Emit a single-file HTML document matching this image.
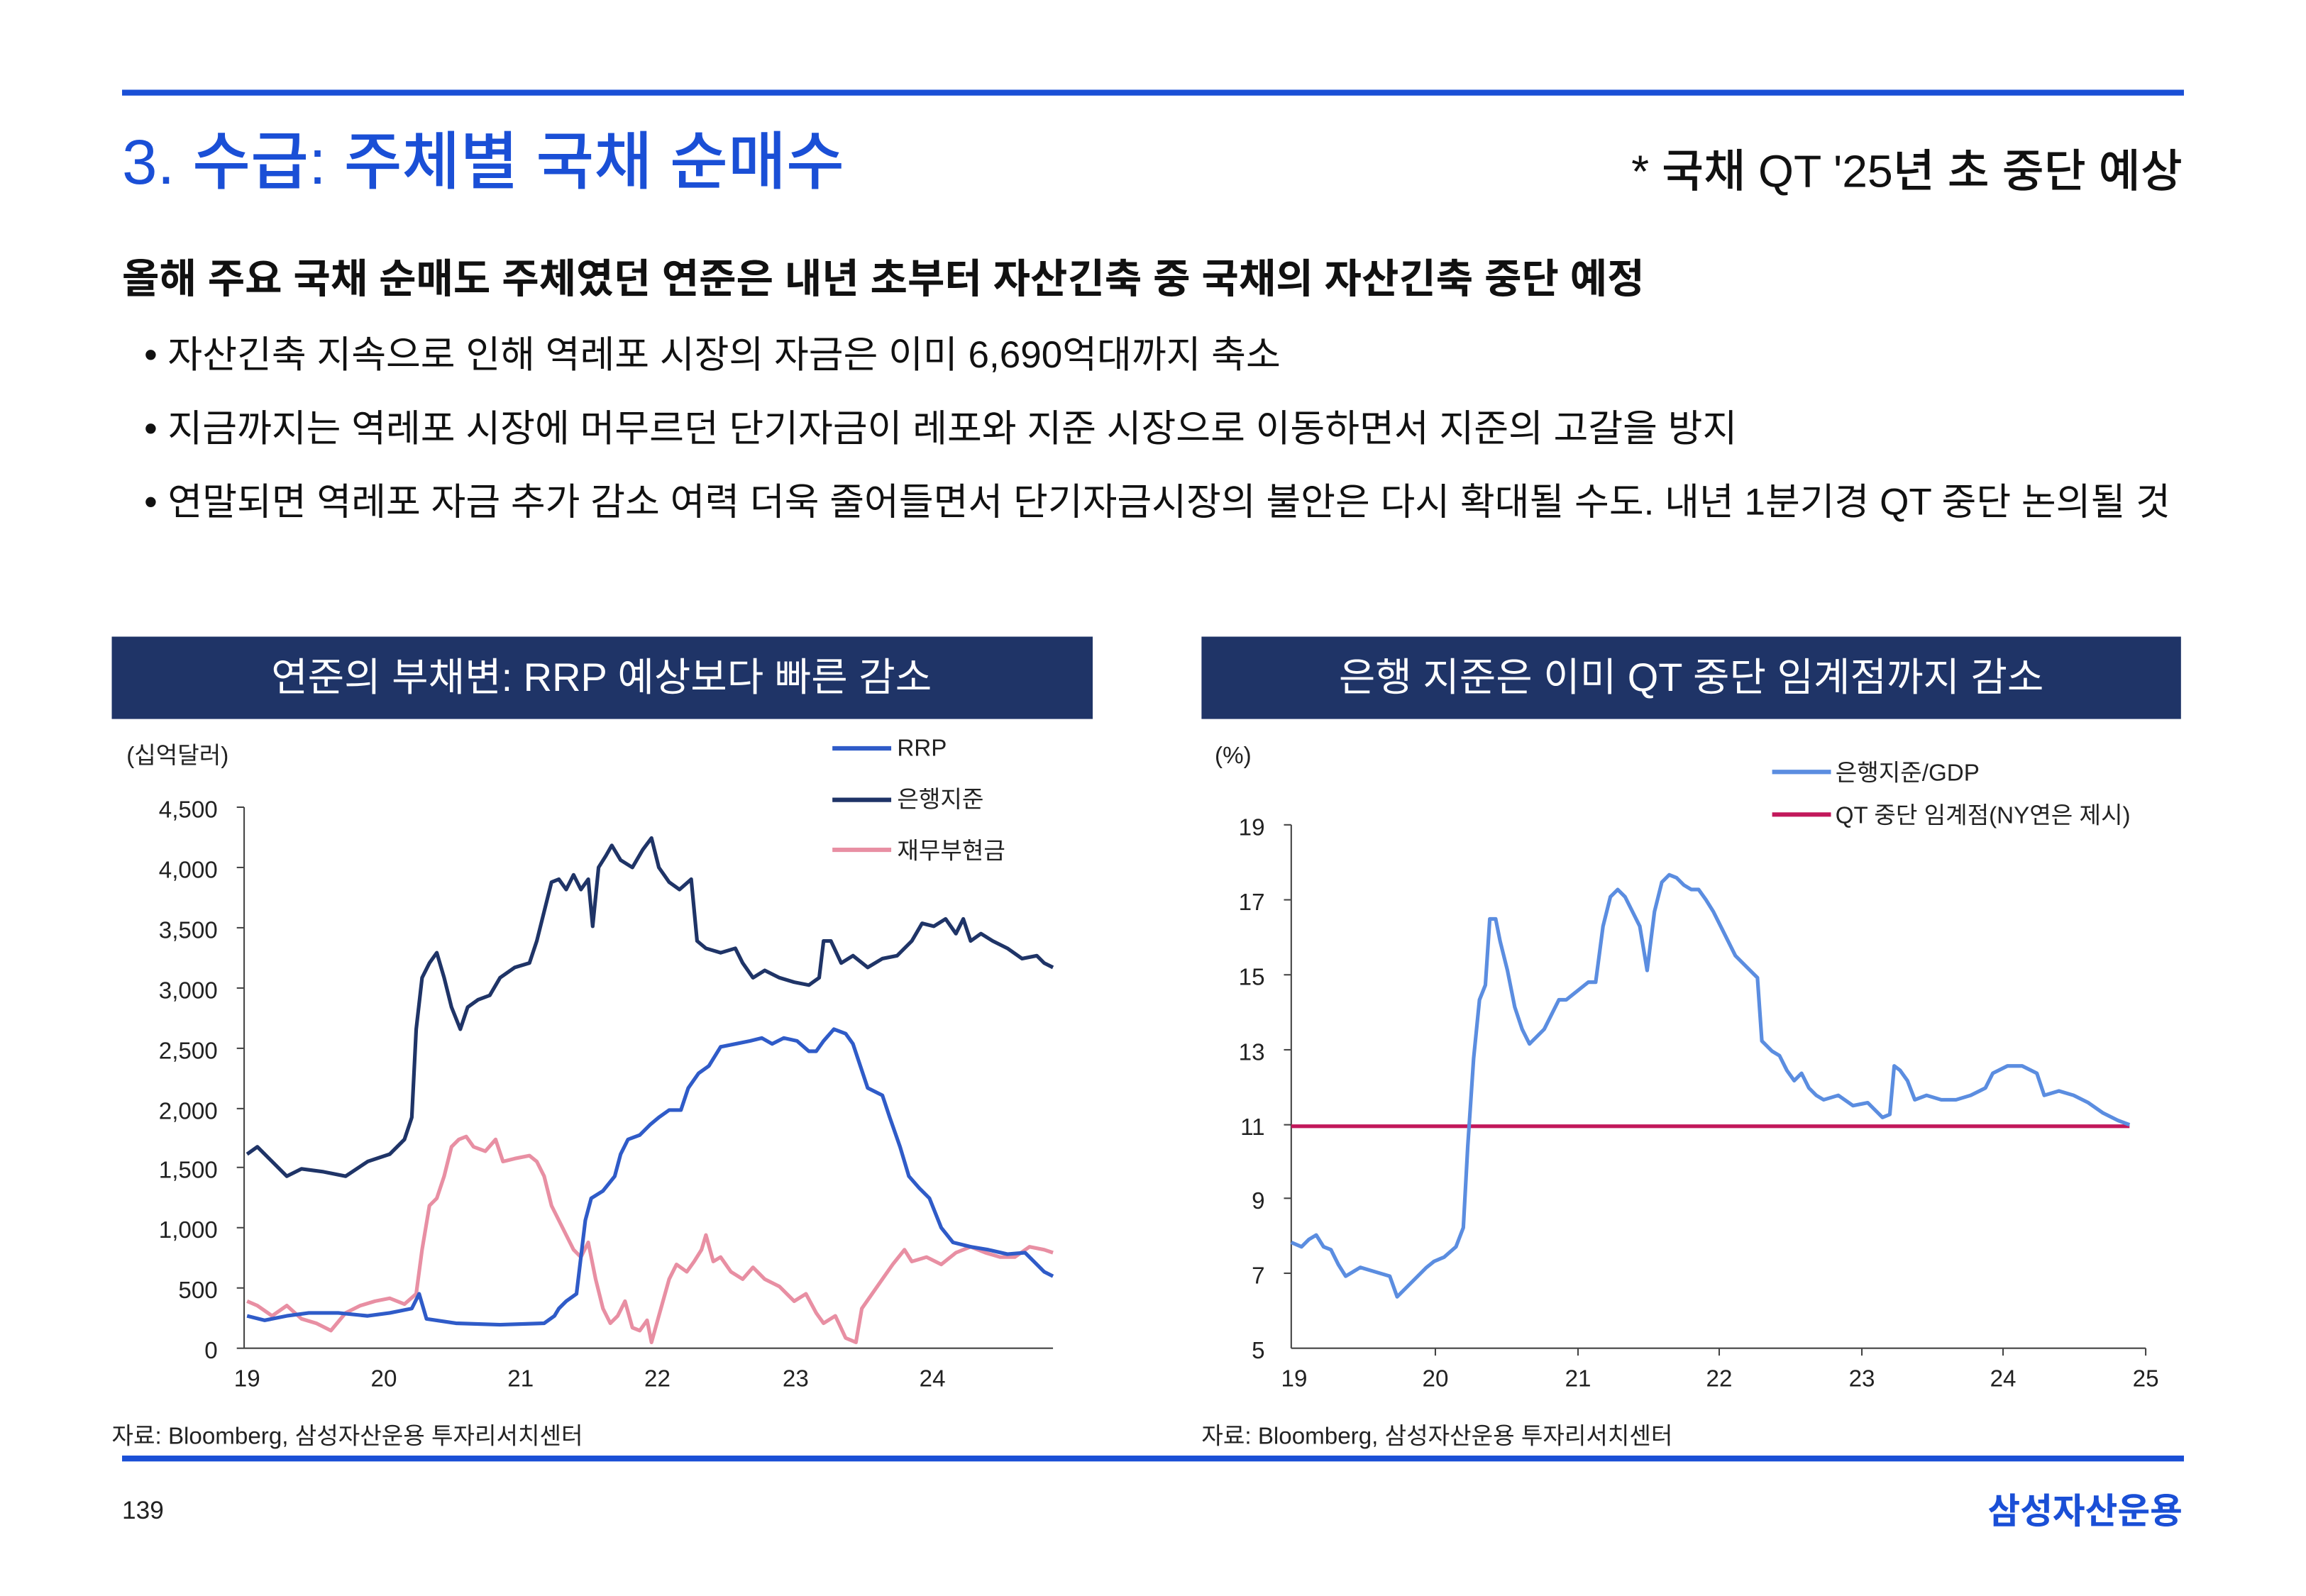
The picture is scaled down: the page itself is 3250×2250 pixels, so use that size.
<!DOCTYPE html>
<html><head><meta charset="utf-8"><style>
html,body{margin:0;padding:0;background:#fff}
svg{display:block}
text{font-family:"Liberation Sans","Noto Sans CJK KR",sans-serif}
</style></head><body>
<svg width="3250" height="2250" viewBox="0 0 1568 1085.5" xmlns="http://www.w3.org/2000/svg">
<rect x="83" y="61" width="1402" height="4" fill="#1a4fd6"/>
<text x="83" y="125" font-size="43" fill="#1a4fd6" font-weight="500">3. 수급: 주체별 국채 순매수</text>
<text x="1484" y="127" font-size="31" fill="#111" text-anchor="end" font-weight="500">* 국채 QT '25년 초 중단 예상</text>
<text x="83" y="199" font-size="27.5" fill="#111" font-weight="bold">올해 주요 국채 순매도 주체였던 연준은 내년 초부터 자산긴축  중 국채의 자산긴축 중단 예정</text>
<text x="98" y="250" font-size="25.6" fill="#111">• 자산긴축 지속으로 인해 역레포 시장의 자금은 이미 6,690억대까지 축소</text>
<text x="98" y="300" font-size="25.6" fill="#111">• 지금까지는 역레포 시장에 머무르던 단기자금이 레포와 지준 시장으로 이동하면서 지준의 고갈을 방지</text>
<text x="98" y="350" font-size="25.6" fill="#111">• 연말되면 역레포 자금 추가 감소 여력 더욱 줄어들면서 단기자금시장의 불안은 다시 확대될 수도. 내년 1분기경 QT 중단 논의될 것</text>

<rect x="76" y="433" width="667" height="56" fill="#1f3467"/>
<text x="409" y="470" font-size="27" fill="#fff" text-anchor="middle">연준의 부채변: RRP 예상보다 빠른 감소</text>
<rect x="817" y="433" width="666" height="56" fill="#1f3467"/>
<text x="1150" y="470" font-size="27" fill="#fff" text-anchor="middle">은행 지준은 이미 QT 중단 임계점까지 감소</text>

<!-- left chart -->
<g font-size="16" fill="#222">
<text x="86" y="519">(십억달러)</text>
<text x="148" y="556" text-anchor="end">4,500</text>
<text x="148" y="597" text-anchor="end">4,000</text>
<text x="148" y="638" text-anchor="end">3,500</text>
<text x="148" y="679" text-anchor="end">3,000</text>
<text x="148" y="720" text-anchor="end">2,500</text>
<text x="148" y="761" text-anchor="end">2,000</text>
<text x="148" y="801" text-anchor="end">1,500</text>
<text x="148" y="842" text-anchor="end">1,000</text>
<text x="148" y="883" text-anchor="end">500</text>
<text x="148" y="924" text-anchor="end">0</text>
<text x="168" y="943" text-anchor="middle">19</text>
<text x="261" y="943" text-anchor="middle">20</text>
<text x="354" y="943" text-anchor="middle">21</text>
<text x="447" y="943" text-anchor="middle">22</text>
<text x="541" y="943" text-anchor="middle">23</text>
<text x="634" y="943" text-anchor="middle">24</text>
<text x="610" y="514">RRP</text>
<text x="610" y="549">은행지준</text>
<text x="610" y="584">재무부현금</text>
</g>
<g stroke="#444" stroke-width="1">
<line x1="166" y1="549" x2="166" y2="917"/><line x1="166" y1="917" x2="716" y2="917"/>
<line x1="161" y1="549" x2="166" y2="549"/><line x1="161" y1="590" x2="166" y2="590"/><line x1="161" y1="631" x2="166" y2="631"/><line x1="161" y1="672" x2="166" y2="672"/><line x1="161" y1="713" x2="166" y2="713"/><line x1="161" y1="754" x2="166" y2="754"/><line x1="161" y1="794" x2="166" y2="794"/><line x1="161" y1="835" x2="166" y2="835"/><line x1="161" y1="876" x2="166" y2="876"/><line x1="161" y1="917" x2="166" y2="917"/>
</g>
<line x1="566" y1="509" x2="606" y2="509" stroke="#2f5bc8" stroke-width="3"/>
<line x1="566" y1="544" x2="606" y2="544" stroke="#1f3467" stroke-width="3"/>
<line x1="566" y1="578" x2="606" y2="578" stroke="#e88fa3" stroke-width="3"/>
<g fill="none" stroke-width="2.5" stroke-linejoin="round">
<polyline stroke="#e88fa3" points="168,885 175,888 185,895 195,888 205,897 215,900 225,905 235,893 245,888 255,885 265,883 275,887 283,880 287,850 292,820 297,815 302,800 307,780 312,775 317,773 322,780 330,783 337,775 342,790 350,788 360,786 365,790 370,800 375,820 380,830 385,840 390,850 395,855 400,845 405,870 410,890 415,900 420,895 425,885 430,903 435,905 440,898 443,913 448,895 455,870 460,860 467,865 472,858 477,850 480,840 485,858 490,855 497,865 505,870 512,862 520,870 530,875 540,885 548,880 555,893 560,900 568,895 575,910 582,913 586,890 593,880 600,870 607,860 615,850 620,858 630,855 640,860 650,852 660,848 670,852 680,855 690,855 700,848 710,850 716,852"/>
<polyline stroke="#2f5bc8" points="168,895 180,898 195,895 210,893 230,893 250,895 265,893 280,890 285,880 290,897 310,900 340,901 370,900 377,895 380,890 385,885 392,880 398,830 402,815 410,810 418,800 422,785 427,775 435,772 442,765 448,760 455,755 463,755 468,740 475,730 482,725 490,712 500,710 510,708 518,706 525,710 533,706 542,708 550,715 555,715 560,708 567,700 575,703 580,710 585,725 590,740 600,745 605,760 612,780 618,800 625,808 632,815 640,835 648,845 660,848 672,850 685,853 697,852 705,860 710,865 716,868"/>
<polyline stroke="#1f3467" points="168,785 175,780 185,790 195,800 205,795 220,797 235,800 250,790 265,785 275,775 280,760 283,700 287,665 292,655 297,648 302,665 307,685 313,700 318,685 325,680 333,677 340,665 350,658 360,655 365,640 370,620 375,600 380,598 385,605 390,595 395,605 400,598 403,630 407,590 412,582 416,575 422,585 430,590 437,578 443,570 448,590 455,600 462,605 470,598 474,640 480,645 490,648 500,645 505,655 512,665 520,660 530,665 540,668 550,670 557,665 560,640 565,640 572,655 580,650 590,658 600,652 610,650 620,640 627,628 635,630 643,625 650,635 655,625 660,640 667,635 675,640 685,645 695,652 705,650 710,655 716,658"/>
</g>

<!-- right chart -->
<g font-size="16" fill="#222">
<text x="826" y="519">(%)</text>
<text x="860" y="568" text-anchor="end">19</text>
<text x="860" y="619" text-anchor="end">17</text>
<text x="860" y="670" text-anchor="end">15</text>
<text x="860" y="721" text-anchor="end">13</text>
<text x="860" y="772" text-anchor="end">11</text>
<text x="860" y="822" text-anchor="end">9</text>
<text x="860" y="873" text-anchor="end">7</text>
<text x="860" y="924" text-anchor="end">5</text>
<text x="880" y="943" text-anchor="middle">19</text>
<text x="976" y="943" text-anchor="middle">20</text>
<text x="1073" y="943" text-anchor="middle">21</text>
<text x="1169" y="943" text-anchor="middle">22</text>
<text x="1266" y="943" text-anchor="middle">23</text>
<text x="1362" y="943" text-anchor="middle">24</text>
<text x="1459" y="943" text-anchor="middle">25</text>
<text x="1248" y="531">은행지준/GDP</text>
<text x="1248" y="560">QT 중단 임계점(NY연은 제시)</text>
</g>
<g stroke="#444" stroke-width="1">
<line x1="878" y1="561" x2="878" y2="917"/><line x1="878" y1="917" x2="1459" y2="917"/>
<line x1="873" y1="561" x2="878" y2="561"/><line x1="873" y1="612" x2="878" y2="612"/><line x1="873" y1="663" x2="878" y2="663"/><line x1="873" y1="714" x2="878" y2="714"/><line x1="873" y1="765" x2="878" y2="765"/><line x1="873" y1="815" x2="878" y2="815"/><line x1="873" y1="866" x2="878" y2="866"/>
<line x1="976" y1="917" x2="976" y2="922"/><line x1="1073" y1="917" x2="1073" y2="922"/><line x1="1169" y1="917" x2="1169" y2="922"/><line x1="1266" y1="917" x2="1266" y2="922"/><line x1="1362" y1="917" x2="1362" y2="922"/><line x1="1459" y1="917" x2="1459" y2="922"/>
</g>
<line x1="1205" y1="525" x2="1245" y2="525" stroke="#5b8de0" stroke-width="3"/>
<line x1="1205" y1="554" x2="1245" y2="554" stroke="#c2185b" stroke-width="3"/>
<line x1="878" y1="766" x2="1448" y2="766" stroke="#c2185b" stroke-width="2.5"/>
<polyline fill="none" stroke="#5b8de0" stroke-width="2.5" stroke-linejoin="round" points="878,845 885,848 890,843 895,840 900,848 905,850 910,860 915,868 925,862 935,865 945,868 950,882 960,872 970,862 975,858 982,855 990,848 995,835 998,780 1002,720 1006,680 1010,670 1013,625 1017,625 1020,640 1025,660 1030,685 1035,700 1040,710 1045,705 1050,700 1055,690 1060,680 1065,680 1070,676 1075,672 1080,668 1085,668 1090,630 1095,610 1100,605 1105,610 1110,620 1115,630 1120,660 1125,620 1130,600 1135,595 1140,597 1145,602 1150,605 1155,605 1160,612 1165,620 1170,630 1175,640 1180,650 1185,655 1190,660 1195,665 1198,708 1205,715 1210,718 1215,728 1220,735 1225,730 1230,740 1235,745 1240,748 1250,745 1260,752 1270,750 1280,760 1285,758 1288,725 1292,728 1297,735 1302,748 1310,745 1320,748 1330,748 1340,745 1350,740 1355,730 1365,725 1375,725 1385,730 1390,745 1400,742 1410,745 1420,750 1430,757 1440,762 1448,765"/>

<text x="76" y="982" font-size="16" fill="#222">자료: Bloomberg, 삼성자산운용 투자리서치센터</text>
<text x="817" y="982" font-size="16" fill="#222">자료: Bloomberg, 삼성자산운용 투자리서치센터</text>
<rect x="83" y="990" width="1402" height="4" fill="#1a4fd6"/>
<text x="83" y="1033" font-size="17" fill="#222">139</text>
<text x="1484" y="1036" font-size="24" fill="#1a4fd6" font-weight="bold" text-anchor="end">삼성자산운용</text>
</svg>
</body></html>
